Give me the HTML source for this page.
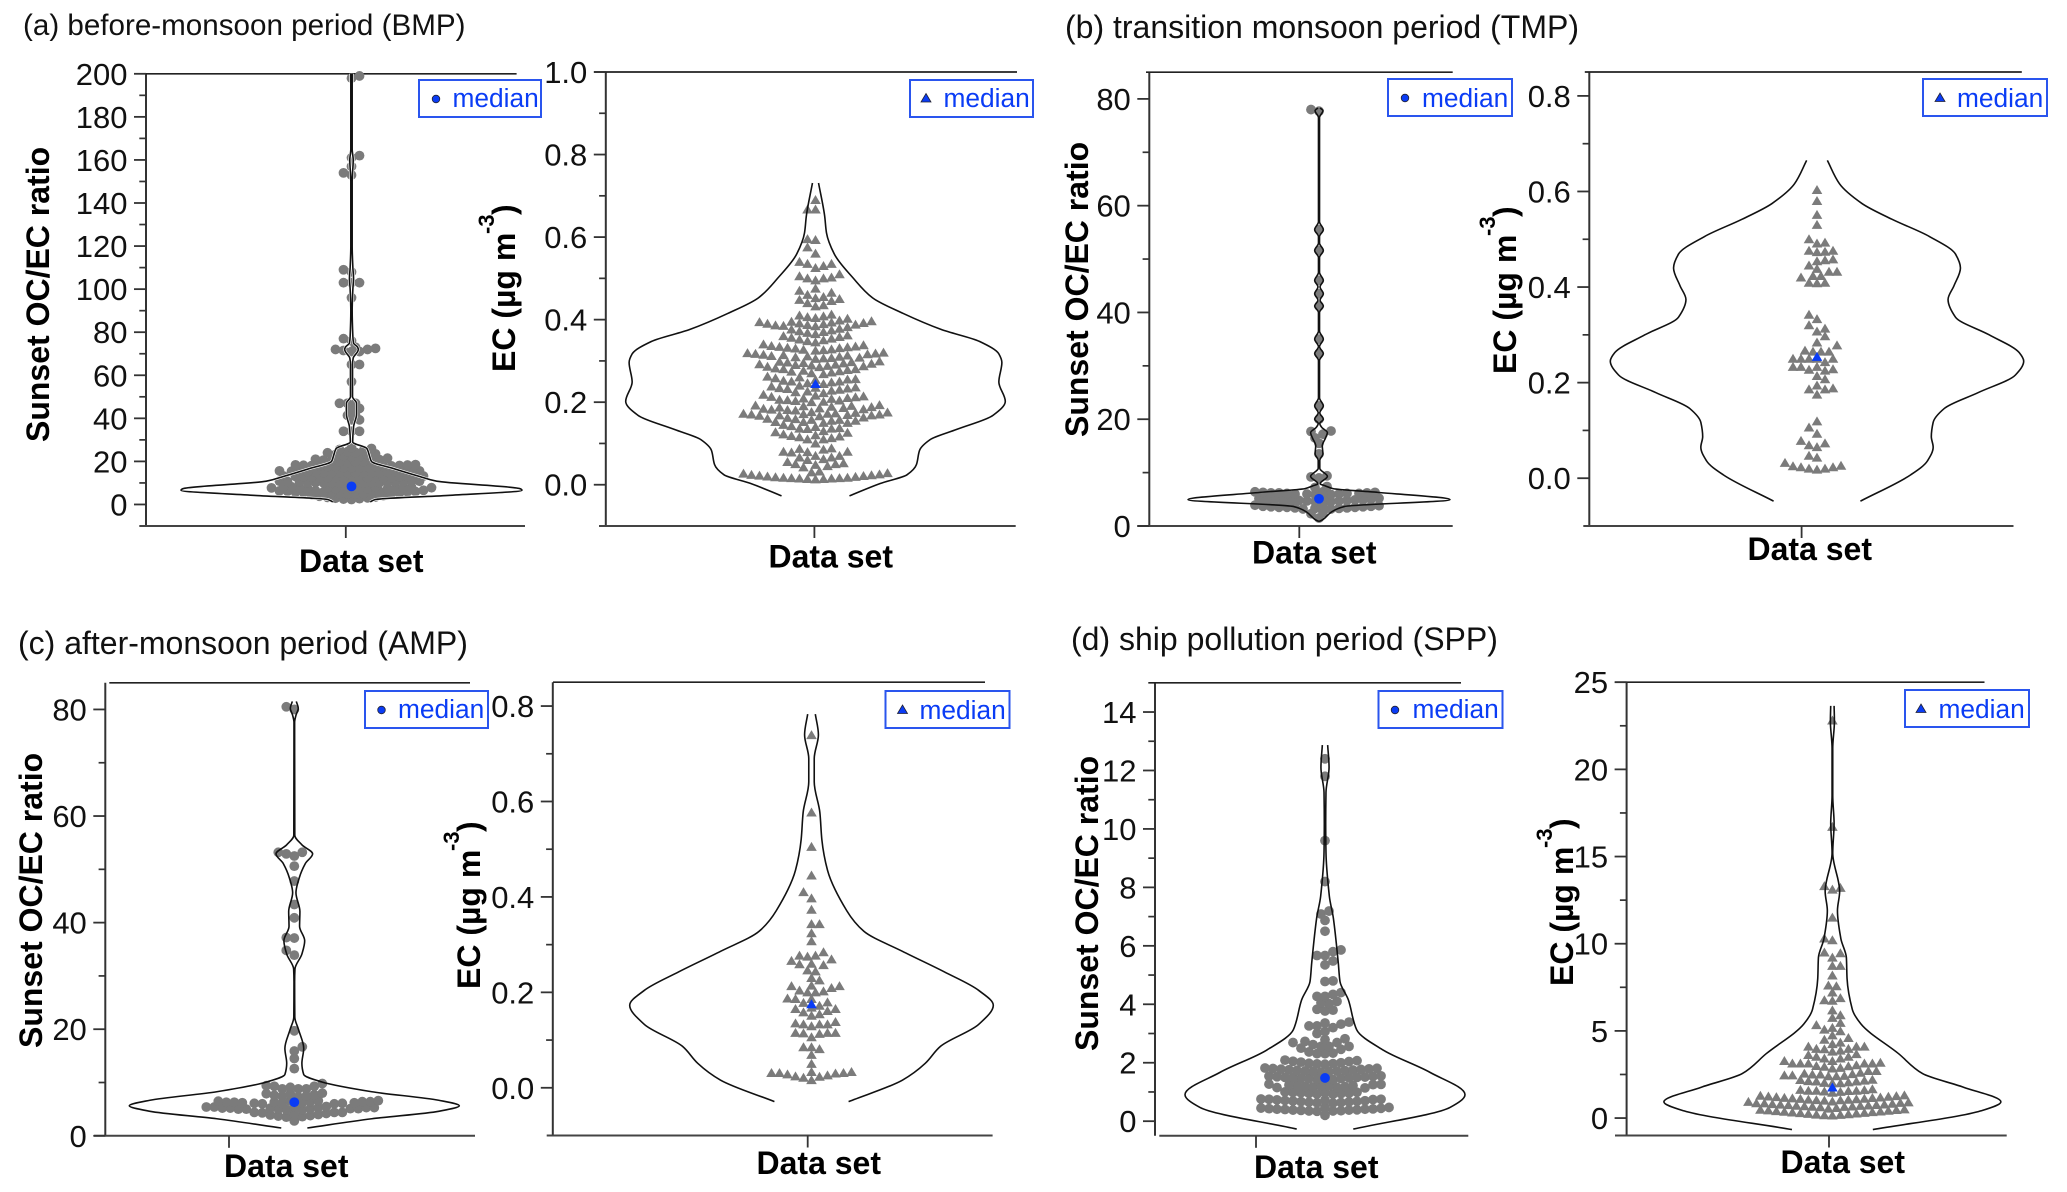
<!DOCTYPE html>
<html lang="en">
<head>
<meta charset="utf-8">
<title>Violin plots of OC/EC ratio and EC by monsoon period</title>
<style>
html,body{margin:0;padding:0;background:#fff;}
svg{display:block;font-family:"Liberation Sans",sans-serif;}
.panel-title{font-size:32px;fill:#111;}
.axis-title{font-size:32px;font-weight:700;fill:#000;}
.sup{font-size:22px;font-weight:700;fill:#000;}
.legend-text{font-size:26.3px;fill:#0a3cf5;}
.legend-box{fill:none;stroke:#2a55ee;stroke-width:2;}
.tick-label{font-size:31px;fill:#111;text-anchor:end;}
</style>
</head>
<body>
<svg id="chart" width="2067" height="1192" viewBox="0 0 2067 1192" xmlns="http://www.w3.org/2000/svg">
<rect x="0" y="0" width="2067" height="1192" fill="#fff"/>

<text class="panel-title" style="font-size:29.6px" x="23" y="35">(a) before-monsoon period (BMP)</text>
<text class="panel-title" x="1065" y="38">(b) transition monsoon period (TMP)</text>
<text class="panel-title" x="18" y="654">(c) after-monsoon period (AMP)</text>
<text class="panel-title" x="1071" y="650">(d) ship pollution period (SPP)</text>

<g id="plot-bmp-ratio"></g>
<g id="plot-bmp-ec"></g>
<g id="plot-tmp-ratio"></g>
<g id="plot-tmp-ec"></g>
<g id="plot-amp-ratio"></g>
<g id="plot-amp-ec"></g>
<g id="plot-spp-ratio"></g>
<g id="plot-spp-ec"></g>

<!-- y axis titles -->
<text class="axis-title" transform="translate(49,442) rotate(-90)">Sunset OC/EC ratio</text>
<text class="axis-title" transform="translate(1088,437) rotate(-90)">Sunset OC/EC ratio</text>
<text class="axis-title" transform="translate(42,1048) rotate(-90)">Sunset OC/EC ratio</text>
<text class="axis-title" transform="translate(1098,1051) rotate(-90)">Sunset OC/EC ratio</text>

<g transform="translate(515,372) rotate(-90)">
  <text class="axis-title" x="0" y="0">EC (µg m</text><text class="sup" x="138" y="-21">-3</text><text class="axis-title" x="157" y="0">)</text>
</g>
<g transform="translate(1516,374) rotate(-90)">
  <text class="axis-title" x="0" y="0">EC (µg m</text><text class="sup" x="138" y="-21">-3</text><text class="axis-title" x="157" y="0">)</text>
</g>
<g transform="translate(480,989) rotate(-90)">
  <text class="axis-title" x="0" y="0">EC (µg m</text><text class="sup" x="138" y="-21">-3</text><text class="axis-title" x="157" y="0">)</text>
</g>
<g transform="translate(1573,986) rotate(-90)">
  <text class="axis-title" x="0" y="0">EC (µg m</text><text class="sup" x="138" y="-21">-3</text><text class="axis-title" x="157" y="0">)</text>
</g>

<!-- x axis titles -->
<text class="axis-title" x="299" y="572">Data set</text>
<text class="axis-title" x="768.5" y="567.5">Data set</text>
<text class="axis-title" x="1252" y="563.5">Data set</text>
<text class="axis-title" x="1747.5" y="560">Data set</text>
<text class="axis-title" x="224" y="1177">Data set</text>
<text class="axis-title" x="756.5" y="1174">Data set</text>
<text class="axis-title" x="1254" y="1178">Data set</text>
<text class="axis-title" x="1780.5" y="1173">Data set</text>

<!-- legends -->
<g>
  <rect class="legend-box" x="419" y="80" width="122" height="37"/><circle cx="436" cy="99" r="3.8" fill="#0a3cf5" stroke="#223" stroke-width="0.8"/><text class="legend-text" x="452.5" y="107">median</text>
</g>
<g>
  <rect class="legend-box" x="910" y="80" width="123" height="37"/><polygon points="926,93.5 931,102 921,102" fill="#0a3cf5" stroke="#223" stroke-width="0.8"/><text class="legend-text" x="943.5" y="107">median</text>
</g>
<g>
  <rect class="legend-box" x="1388" y="79" width="124" height="37"/><circle cx="1405" cy="98" r="3.8" fill="#0a3cf5" stroke="#223" stroke-width="0.8"/><text class="legend-text" x="1422" y="107">median</text>
</g>
<g>
  <rect class="legend-box" x="1923" y="79" width="124" height="37"/><polygon points="1940,93 1945,101.5 1935,101.5" fill="#0a3cf5" stroke="#223" stroke-width="0.8"/><text class="legend-text" x="1957" y="107">median</text>
</g>
<g>
  <rect class="legend-box" x="365" y="691" width="123" height="37"/><circle cx="381.5" cy="710" r="3.8" fill="#0a3cf5" stroke="#223" stroke-width="0.8"/><text class="legend-text" x="398" y="718">median</text>
</g>
<g>
  <rect class="legend-box" x="885.5" y="691" width="124" height="37"/><polygon points="902.5,705 907.5,713.5 897.5,713.5" fill="#0a3cf5" stroke="#223" stroke-width="0.8"/><text class="legend-text" x="919.5" y="719">median</text>
</g>
<g>
  <rect class="legend-box" x="1378.5" y="691" width="124" height="37"/><circle cx="1395" cy="710" r="3.8" fill="#0a3cf5" stroke="#223" stroke-width="0.8"/><text class="legend-text" x="1412.5" y="718">median</text>
</g>
<g>
  <rect class="legend-box" x="1905" y="690" width="124" height="37"/><polygon points="1921,704 1926,712.5 1916,712.5" fill="#0a3cf5" stroke="#223" stroke-width="0.8"/><text class="legend-text" x="1938.5" y="718">median</text>
</g>
</svg>

<script>
// ---------- (a) BMP ----------
const bmpRatioTicks = [0,20,40,60,80,100,120,140,160,180,200];
const bmpRatioTickLabels = ['0','20','40','60','80','100','120','140','160','180','200'];
const bmpRatioMinorTicks = [10,30,50,70,90,110,130,150,170,190];
const bmpRatioMedian = [8.4];
const bmpRatioLevels = [1.2,2.3,4.2,6.6,7.3,10.8,13,16.6,20,22.7,26,29,36,42,47,50,58,65,68,71,72,73,75,78,90,100,105,110,120,150,160,165,200];
const bmpRatioDensity = [.11,.14,.566,1,.99,.5,.4,.25,.117,.105,.09,.007,.012,.03,.03,.006,.006,.006,.01,.036,.04,.036,.012,.008,.004,.008,.012,.008,.004,.004,.01,.004,.004];
const bmpRatioValues = [2.3,2.5,2.7,2.9,3.1,3.3,3.5,3.8,4.1,4.4,
4.8,4.9,5,5.1,5.2,5.3,5.4,5.5,5.6,5.7,5.8,5.9,6,6.1,6.2,6.3,6.4,6.6,
7.2,7.3,7.3,7.4,7.4,7.5,7.6,7.6,7.7,7.7,7.8,7.8,7.9,8,8.1,8.2,8.3,
9.8,9.8,9.9,9.9,10,10,10.1,10.1,10.2,10.2,10.3,10.4,10.5,10.6,10.7,10.7,10.8,10.8,
12.2,12.2,12.3,12.3,12.4,12.4,12.5,12.5,12.6,12.6,12.7,12.8,12.9,13,13,13.1,13.2,13.2,
14.6,14.6,14.7,14.7,14.8,14.8,14.9,14.9,15,15,15.1,15.2,15.3,15.4,15.4,15.5,15.6,15.6,
17,17.1,17.2,17.3,17.4,17.5,17.6,17.7,17.8,17.9,18,18.1,18.2,18.3,18.4,18.5,
19.6,19.7,19.8,20,20.2,20.4,20.6,20.8,21,21.5,22,22.2,22.5,23,23.2,23.5,24,24.2,24.5,25,25.5,26,26.5,
34,34,34,39.3,39.3,41.4,41.4,44.6,44.6,47,47,47,57,65,65,71,71,71.5,72,72,72.5,73,76,77,96,103,103,103,108,109,153,154,157,161,162,198,199];

const bmpEcTicks = [0,.2,.4,.6,.8,1];
const bmpEcTickLabels = ['0.0','0.2','0.4','0.6','0.8','1.0'];
const bmpEcMinorTicks = [.1,.3,.5,.7,.9];
const bmpEcMedian = [.244];
const bmpEcLevels = [-.027,.003,.024,.049,.083,.109,.134,.168,.202,.249,.296,.317,.347,.376,.415,.453,.5,.559,.61,.652,.731];
const bmpEcDensity = [.179,.341,.482,.532,.548,.603,.744,.935,1,.966,.982,.966,.865,.663,.462,.3,.2,.099,.058,.048,.016];
const bmpEcValues = [.013,.014,.014,.015,.015,.016,.016,.017,.017,.018,.019,.02,.021,.022,.023,.024,.025,.027,.028,.03,.032,
.042,.045,.048,.05,.05,.052,.055,.06,.062,.066,.066,.07,.07,.078,.079,.08,.08,.085,.087,.088,.1,
.11,.11,.113,.115,.117,.118,.12,.122,.126,.127,.13,.135,.136,.136,.137,.14,.142,.145,
.15,.15,.152,.152,.155,.155,.157,.157,.159,.16,.162,.163,
.166,.167,.168,.168,.169,.17,.17,.171,.172,.172,.173,.174,.175,.176,
.18,.181,.182,.183,.184,.185,.186,.187,.188,.189,.19,.191,.192,.193,
.2,.201,.203,.204,.205,.206,.208,.209,.21,.212,.213,.214,.216,.218,
.222,.224,.226,.228,.23,.232,.233,.234,.235,.236,.238,.24,
.244,.246,.248,.25,.25,.252,.254,.255,.256,.258,.26,.262,
.268,.27,.272,.274,.275,.276,.278,.28,.28,.282,
.285,.286,.287,.288,.289,.29,.291,.292,.293,.294,.295,.296,.297,.298,.299,
.305,.306,.307,.308,.309,.31,.311,.312,.313,.314,.315,.316,.317,.318,.319,.32,
.325,.326,.327,.328,.33,.331,.332,.333,.334,.335,.336,.338,.34,
.345,.348,.35,.352,.354,.356,.358,.36,.362,
.365,.368,.37,.372,.374,.376,.378,
.382,.384,.385,.386,.387,.388,.389,.39,.391,.392,.393,.394,.395,.396,.398,
.402,.404,.406,.408,.41,.412,
.432,.435,.44,.445,.448,.45,.452,.455,.46,.465,.47,.475,
.495,.5,.5,.502,.505,.51,
.525,.53,.535,.535,.54,
.56,.575,.593,.595,.667,.667,.69];

// ---------- (b) TMP ----------
const tmpRatioTicks = [0,20,40,60,80];
const tmpRatioTickLabels = ['0','20','40','60','80'];
const tmpRatioMinorTicks = [10,30,50,70];
const tmpRatioMedian = [5.1];
const tmpRatioLevels = [.85,1.2,2.6,3.66,4.93,6.3,7,7.5,7.9,9.3,10.8,12.3,13.5,15,16.5,17.5,18.5,19.2,20,21.2,22.5,24,31,32.3,33.6,35,36.5,40,41.2,42.3,43.5,44.8,46,47.5,50.3,51.6,53,54.2,55.5,57,76.5,77.8,78.3];
const tmpRatioDensity = [0,.03,.094,.196,1,.45,.107,.05,.008,.064,.006,.006,.03,.025,.05,.064,.02,.006,.033,.006,.033,.004,.004,.033,.004,.033,.004,.004,.033,.008,.033,.008,.033,.004,.004,.033,.004,.004,.033,.004,.004,.03,.008];
const tmpRatioValues = [1.5,2.3,2.5,3.2,3.2,3.3,3.3,3.4,3.4,3.5,3.5,3.5,3.6,3.6,3.7,3.7,3.8,3.8,3.9,
4.6,4.6,4.7,4.7,4.8,4.8,4.8,4.9,4.9,4.9,5,5,5,5.1,5.1,5.2,
5.9,5.9,6,6,6,6.1,6.1,6.1,6.2,6.2,6.2,6.3,6.3,6.4,6.4,
7.2,7.4,9,9.2,9.4,13.5,15.5,16.5,17.2,17.7,17.8,20,22.5,32.3,35,41.2,43.5,46,51.6,55.5,77.7,78];

const tmpEcTicks = [0,.2,.4,.6,.8];
const tmpEcTickLabels = ['0.0','0.2','0.4','0.6','0.8'];
const tmpEcMinorTicks = [.1,.3,.5,.7];
const tmpEcMedian = [.254];
const tmpEcLevels = [-.048,.007,.036,.065,.087,.117,.146,.179,.216,.245,.263,.3,.337,.374,.403,.44,.469,.506,.542,.575,.616,.665];
const tmpEcDensity = [.21,.453,.534,.562,.553,.562,.616,.779,.96,1,.978,.833,.67,.634,.663,.694,.67,.543,.362,.217,.109,.05];
const tmpEcValues = [.018,.02,.02,.023,.023,.025,.026,.032,.043,.047,.065,.069,.073,.078,.093,.106,.119,
.175,.186,.186,.188,.194,.207,.214,.225,.227,.228,.233,.233,.233,.243,.25,.25,.25,.25,.25,.265,.265,.265,.267,.278,.284,.297,.307,.313,.32,.333,.342,
.408,.409,.409,.42,.423,.423,.432,.432,.438,.445,.454,.456,.458,.473,.474,.476,.476,.491,.493,.5,.53,.551,.58,.603];

// ---------- (c) AMP ----------
const ampRatioTicks = [0,20,40,60,80];
const ampRatioTickLabels = ['0','20','40','60','80'];
const ampRatioMinorTicks = [10,30,50,70];
const ampRatioMedian = [6.3];
const ampRatioLevels = [1.46,3.2,4.6,5.63,6.67,8.27,10.1,11.5,13.6,16.4,19.9,22.3,28.9,31.3,34.1,36.6,39.3,42.1,45.6,48.4,51.1,52.9,54.6,56.4,77.6,78.9,80.2,81.5];
const ampRatioDensity = [.079,.47,.875,1,.875,.47,.168,.057,.046,.057,.026,.003,.002,.004,.046,.063,.032,.034,.01,.03,.067,.111,.046,.003,.002,.01,.024,.012];
const ampRatioValues = [2.8,3.5,3.6,3.7,3.8,3.9,4,4.1,4.2,4.3,4.4,4.4,4.4,
4.9,4.9,5,5,5,5.1,5.1,5.1,5.2,5.2,5.2,5.3,5.3,5.3,5.4,5.4,5.4,5.5,
6,6,6.1,6.1,6.1,6.2,6.2,6.2,6.3,6.3,6.3,6.4,6.4,6.4,6.5,6.5,6.6,6.6,
7.3,7.4,7.5,7.6,7.7,7.8,7.9,8,
8.8,8.8,8.8,9.1,9.3,9.3,9.4,9.8,12.6,14.5,15.9,16.7,19.7,33.9,34.8,37.1,37.2,40.9,43.4,47.8,50.6,52.5,52.9,53.2,53.2,80,80.5];

const ampEcTicks = [0,.2,.4,.6,.8];
const ampEcTickLabels = ['0.0','0.2','0.4','0.6','0.8'];
const ampEcMinorTicks = [.1,.3,.5,.7];
const ampEcMedian = [.175];
const ampEcLevels = [-.029,.016,.051,.087,.133,.173,.204,.243,.286,.328,.371,.456,.52,.577,.641,.69,.74,.783];
const ampEcDensity = [.204,.5,.625,.71,.92,1,.92,.73,.5,.288,.194,.088,.057,.046,.015,.015,.038,.021];
const ampEcValues = [.016,.021,.023,.024,.026,.028,.03,.031,.031,.031,.033,.033,.05,.069,.081,.085,.085,.106,.113,.114,.115,.115,.115,.129,.133,.133,.133,.135,.138,.151,.154,.158,.161,.165,.165,.168,.172,.178,.179,.186,.186,.187,.2,.2,.202,.204,.209,.213,.213,.214,.225,.23,.244,.246,.257,.259,.26,.266,.269,.275,.277,.277,.284,.307,.324,.343,.343,.373,.397,.41,.445,.505,.577,.739];

// ---------- (d) SPP ----------
const sppRatioTicks = [0,2,4,6,8,10,12,14];
const sppRatioTickLabels = ['0','2','4','6','8','10','12','14'];
const sppRatioMinorTicks = [1,3,5,7,9,11,13];
const sppRatioMedian = [1.48];
const sppRatioLevels = [-.27,.47,.91,1.67,2.43,3.13,4.15,4.78,5.41,6.94,7.7,9.2,10.2,11.25,12.1,12.87];
const sppRatioDensity = [.202,.893,1,.75,.417,.226,.167,.107,.095,.06,.031,.007,.005,.007,.029,.019];
const sppRatioValues = [.2,.34,.35,.35,.36,.37,.38,.38,.39,.4,.41,.41,.42,.43,.44,.45,.46,.47,
.62,.63,.64,.65,.66,.67,.68,.69,.7,.71,.72,.73,.74,.75,.75,.76,
.92,.93,.94,.95,.96,.97,.98,.98,.99,1,
1.14,1.15,1.16,1.17,1.18,1.19,1.2,1.21,1.22,1.23,1.24,1.25,1.26,1.27,
1.42,1.43,1.44,1.45,1.46,1.47,1.48,1.49,1.5,1.5,1.51,1.52,1.53,1.54,1.55,
1.68,1.69,1.7,1.71,1.72,1.73,1.74,1.75,1.76,1.77,1.78,1.79,1.8,1.81,1.82,
1.95,1.96,1.97,1.98,2,2.02,2.04,2.05,2.07,2.09,
2.31,2.31,2.33,2.37,2.46,2.5,2.56,2.56,2.56,2.62,2.69,2.69,2.73,2.79,2.82,3,3.07,3.2,3.26,3.26,3.32,3.36,3.39,3.77,3.8,3.83,4.02,4.05,4.1,4.27,4.27,4.34,4.4,4.78,4.8,5.35,5.48,5.67,5.67,5.8,5.86,6.5,6.87,7.09,7.19,8.2,9.6,11.8,12.4];

const sppEcTicks = [0,5,10,15,20,25];
const sppEcTickLabels = ['0','5','10','15','20','25'];
const sppEcMinorTicks = [2.5,7.5,12.5,17.5,22.5];
const sppEcMedian = [1.75];
const sppEcLevels = [-.66,.41,.93,1.77,2.55,3.7,5.4,6.24,8,9.2,10.3,11.9,13,15.2,16.9,18.5,21.2,22.76,23.64];
const sppEcDensity = [.24,.88,1,.778,.535,.392,.169,.118,.087,.083,.05,.03,.043,.002,.01,.002,.002,.012,.01];
const sppEcValues = [.15,.16,.18,.2,.22,.24,.26,.28,.3,.32,.34,.36,.38,.4,.42,.44,.46,.48,.5,.54,.58,
.62,.64,.65,.66,.68,.7,.71,.72,.74,.75,.77,.78,.8,.82,.84,.85,.87,.9,.93,.95,
1,1.02,1.03,1.05,1.06,1.08,1.1,1.11,1.13,1.15,1.16,1.18,1.2,1.22,1.24,1.26,1.28,1.3,
1.45,1.5,1.52,1.55,1.57,1.57,1.57,1.6,1.62,1.65,
2,2,2.02,2.05,2.1,2.1,2.12,2.15,2.18,2.2,2.4,2.4,2.42,2.45,2.45,2.5,2.5,2.52,2.55,2.6,2.7,2.7,
2.84,2.88,2.94,2.97,2.99,3.03,3.13,3.13,3.13,3.13,3.13,3.17,3.27,3.27,3.42,3.42,3.52,3.52,3.62,3.67,3.81,3.87,3.95,3.97,3.97,4.1,4.1,4.1,4.24,4.33,
4.49,4.59,4.74,4.98,5.07,5.17,5.33,5.46,5.75,5.9,6.18,6.73,6.76,6.88,7.2,7.56,7.6,8.18,8.73,8.73,9.2,9.45,9.5,10.2,10.3,11.5,13.1,13.2,13.3,16.7,22.8];

// ---------- layout (pixels only, no data) ----------
const layouts = [
 {id:'plot-bmp-ratio',marker:'circle',yMin:-10,yMax:200,top:73.8,bottom:526,axisX:146,topL:146,topR:516.6,botL:139.3,botR:525,tickX:345.8,cx:351.5,half:170.5,halo:true,dist:5.8,
  ticks:bmpRatioTicks,labels:bmpRatioTickLabels,minor:bmpRatioMinorTicks,values:bmpRatioValues,median:bmpRatioMedian,levels:bmpRatioLevels,density:bmpRatioDensity},
 {id:'plot-bmp-ec',marker:'triangle',yMin:-.1,yMax:1,top:72,bottom:526,axisX:605.8,topL:594,topR:1017,botL:599,botR:1015.7,tickX:814.4,cx:815.5,half:189.8,dist:7.6,
  ticks:bmpEcTicks,labels:bmpEcTickLabels,minor:bmpEcMinorTicks,values:bmpEcValues,median:bmpEcMedian,levels:bmpEcLevels,density:bmpEcDensity},
 {id:'plot-tmp-ratio',marker:'circle',yMin:0,yMax:85,top:72.2,bottom:526,axisX:1149.3,topL:1146,topR:1452.7,botL:1137.3,botR:1452.7,tickX:1299.3,cx:1319,half:131,dist:6.6,
  ticks:tmpRatioTicks,labels:tmpRatioTickLabels,minor:tmpRatioMinorTicks,values:tmpRatioValues,median:tmpRatioMedian,levels:tmpRatioLevels,density:tmpRatioDensity},
 {id:'plot-tmp-ec',marker:'triangle',yMin:-.1,yMax:.85,top:72,bottom:526,axisX:1589.3,topL:1584.8,topR:2021.8,botL:1583.3,botR:2013.5,tickX:1801.6,cx:1817,half:206.7,dist:7.4,
  ticks:tmpEcTicks,labels:tmpEcTickLabels,minor:tmpEcMinorTicks,values:tmpEcValues,median:tmpEcMedian,levels:tmpEcLevels,density:tmpEcDensity},
 {id:'plot-amp-ratio',marker:'circle',yMin:0,yMax:85,top:682.8,bottom:1135.8,axisX:105.3,topL:109.3,topR:470,botL:94,botR:475,tickX:229,cx:294.3,half:165,dist:6.8,
  ticks:ampRatioTicks,labels:ampRatioTickLabels,minor:ampRatioMinorTicks,values:ampRatioValues,median:ampRatioMedian,levels:ampRatioLevels,density:ampRatioDensity},
 {id:'plot-amp-ec',marker:'triangle',yMin:-.1,yMax:.85,top:682.2,bottom:1135.5,axisX:552.8,topL:553,topR:985,botL:546.7,botR:992.6,tickX:807.7,cx:811.5,half:181.8,dist:7.4,
  ticks:ampEcTicks,labels:ampEcTickLabels,minor:ampEcMinorTicks,values:ampEcValues,median:ampEcMedian,levels:ampEcLevels,density:ampEcDensity},
 {id:'plot-spp-ratio',marker:'circle',yMin:-.5,yMax:15,top:682.8,bottom:1135.8,axisX:1155,topL:1148.3,topR:1461,botL:1159.3,botR:1468.3,tickX:1256,cx:1325,half:140,dist:7.5,
  ticks:sppRatioTicks,labels:sppRatioTickLabels,minor:sppRatioMinorTicks,values:sppRatioValues,median:sppRatioMedian,levels:sppRatioLevels,density:sppRatioDensity},
 {id:'plot-spp-ec',marker:'triangle',yMin:-1,yMax:25,top:682.2,bottom:1135.5,axisX:1626.6,topL:1615,topR:1984.5,botL:1615,botR:2006.7,tickX:1829,cx:1832.4,half:168.5,dist:7.4,
  ticks:sppEcTicks,labels:sppEcTickLabels,minor:sppEcMinorTicks,values:sppEcValues,median:sppEcMedian,levels:sppEcLevels,density:sppEcDensity}
];

const SVGNS = 'http://www.w3.org/2000/svg';
const GREY = '#7b7b7b';
const BLUE = '#0a3cf5';
const SWARM_STEP = 4;

function shape(tag, parent){
  const el = document.createElementNS(SVGNS, tag);
  parent.appendChild(el);
  return el;
}
function line(parent, x1, y1, x2, y2, color, width){
  const el = shape('line', parent);
  el.setAttribute('x1', x1);
  el.setAttribute('y1', y1);
  el.setAttribute('x2', x2);
  el.setAttribute('y2', y2);
  el.setAttribute('stroke', color);
  el.setAttribute('stroke-width', width);
  return el;
}
function swarm(values, yScale, dist){
  const sorted = values.slice().sort(function(a,b){return a-b;});
  const placed = [];
  let side = 1;
  sorted.forEach(function(v){
    const y = yScale(v);
    let found = null;
    for(let k=0; k<80 && found===null; k++){
      const options = k===0 ? [0] : [side*k*SWARM_STEP, -side*k*SWARM_STEP];
      for(const dx of options){
        const clash = placed.some(function(p){
          const a = p.dx-dx, b = p.y-y;
          return a*a+b*b < dist*dist;
        });
        if(!clash){ found = dx; break; }
      }
    }
    side = -side;
    placed.push({dx:found===null?0:found, y:y});
  });
  return placed;
}
// monotone cubic through (x as a function of y), so narrow peaks never overshoot
function smoothSide(pts){
  const n = pts.length;
  const sec = [];
  for(let i=0;i<n-1;i++){ sec.push((pts[i+1][0]-pts[i][0])/(pts[i+1][1]-pts[i][1])); }
  const m = [sec[0]];
  for(let i=1;i<n-1;i++){
    const a = sec[i-1], b = sec[i];
    m.push(a*b<=0 ? 0 : 2*a*b/(a+b));
  }
  m.push(sec[n-2]);
  let d = 'M'+pts[0][0].toFixed(2)+' '+pts[0][1].toFixed(2);
  for(let i=0;i<n-1;i++){
    const h = (pts[i+1][1]-pts[i][1])/3;
    d += ' C'+(pts[i][0]+m[i]*h).toFixed(2)+' '+(pts[i][1]+h).toFixed(2)+' '+(pts[i+1][0]-m[i+1]*h).toFixed(2)+' '+(pts[i+1][1]-h).toFixed(2)+' '+pts[i+1][0].toFixed(2)+' '+pts[i+1][1].toFixed(2);
  }
  return d;
}
function drawMarker(parent, kind, x, y, fill){
  let el;
  if(kind==='circle'){
    el = shape('circle', parent);
    el.setAttribute('cx', x.toFixed(2));
    el.setAttribute('cy', y.toFixed(2));
    el.setAttribute('r', 4.9);
  } else {
    el = shape('polygon', parent);
    el.setAttribute('points', x.toFixed(2)+','+(y-5).toFixed(2)+' '+(x+5.3).toFixed(2)+','+(y+4).toFixed(2)+' '+(x-5.3).toFixed(2)+','+(y+4).toFixed(2));
  }
  el.setAttribute('fill', fill);
  return el;
}

layouts.forEach(function(L){
  const g = document.getElementById(L.id);
  const yScale = function(v){ return L.bottom-(v-L.yMin)/(L.yMax-L.yMin)*(L.bottom-L.top); };

  const yAxis = line(g, L.axisX, L.top, L.axisX, L.bottom, '#333', 2);
  
  
  const topLine = line(g, L.topL, L.top, L.topR, L.top, '#222', 1.7);
  
  
  const xAxis = line(g, L.botL, L.bottom, L.botR, L.bottom, '#444', 2);
  
  
  const xTick = line(g, L.tickX, L.bottom, L.tickX, L.bottom+12, '#333', 1.8);
  
  

  L.ticks.forEach(function(t, i){
    const y = yScale(t);
    const tick = line(g, L.axisX-12, y, L.axisX, y, '#333', 1.8);
    
    
    const label = shape('text', g);
    label.setAttribute('class', 'tick-label');
    label.setAttribute('x', L.axisX-18.5);
    label.setAttribute('y', (y+11).toFixed(2));
    label.textContent = L.labels[i];
    
    
  });
  L.minor.forEach(function(t){
    const y = yScale(t);
    const tick = line(g, L.axisX-6.7, y, L.axisX, y, '#333', 1.7);
    
    
  });

  const pts = swarm(L.values, yScale, L.dist);
  pts.forEach(function(p){
    const m = drawMarker(g, L.marker, L.cx+p.dx, p.y, GREY);
    
    
  });

  const left = L.levels.map(function(v,i){ return [L.cx-L.density[i]*L.half, yScale(v)]; });
  const right = L.levels.map(function(v,i){ return [L.cx+L.density[i]*L.half, yScale(v)]; });
  const outline = smoothSide(left)+' '+smoothSide(right);
  if(L.halo){
    const halo = shape('path', g);
    halo.setAttribute('d', outline);
    halo.setAttribute('fill', 'none');
    halo.setAttribute('stroke', '#fff');
    halo.setAttribute('stroke-width', 2.8);
    
    
  }
  const violin = shape('path', g);
  violin.setAttribute('d', outline);
  violin.setAttribute('fill', 'none');
  violin.setAttribute('stroke', '#111');
  violin.setAttribute('stroke-width', 1.6);
  
  

  L.median.forEach(function(v){
    const med = drawMarker(g, L.marker, L.cx, yScale(v), BLUE);
    
    
  });
});
</script>
</body>
</html>
